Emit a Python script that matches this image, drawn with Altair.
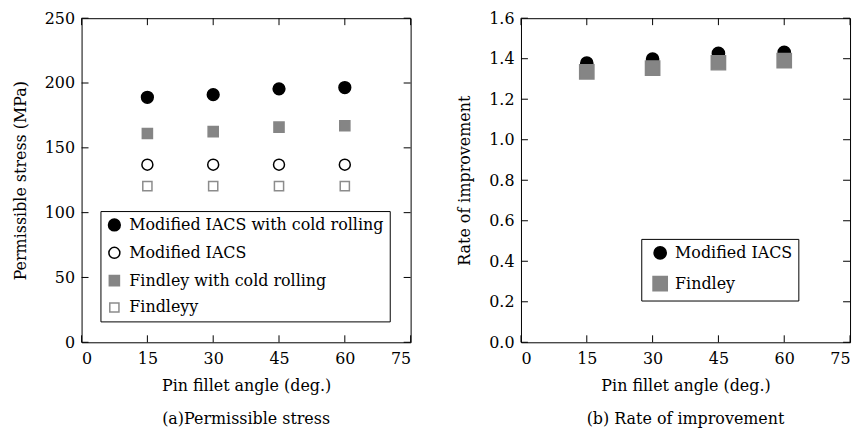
import altair as alt
import pandas as pd

angles = [15, 30, 45, 60]
iacs_cold = [189, 191, 195.5, 196.5]
iacs = [137, 137, 137, 137]
findley_cold = [161, 162.5, 166, 167]
findley = [120.5, 120.5, 120.5, 120.5]
rate_iacs = [1.378, 1.398, 1.426, 1.432]
rate_findley = [1.335, 1.354, 1.38, 1.39]

names_a = ["Modified IACS with cold rolling", "Modified IACS", "Findley with cold rolling", "Findleyy"]
names_b = ["Modified IACS", "Findley"]

x_ticks = [0, 15, 30, 45, 60, 75]
y_ticks_a = [0, 50, 100, 150, 200, 250]
y_ticks_b = [0.0, 0.2, 0.4, 0.6, 0.8, 1.0, 1.2, 1.4, 1.6]

FONT = "DejaVu Serif"
FS = 16
W, H = 331, 326
TL = 7
GREY = "#858585"

rows_a = []
for name, vals in zip(names_a, [iacs_cold, iacs, findley_cold, findley]):
    for a, v in zip(angles, vals):
        rows_a.append({"angle": a, "v": v, "series": name})
df_a = pd.DataFrame(rows_a)

rows_b = []
for name, vals in zip(names_b, [rate_iacs, rate_findley]):
    for a, v in zip(angles, vals):
        rows_b.append({"angle": a, "v": v, "series": name})
df_b = pd.DataFrame(rows_b)


def panel(df, names, shapes, fills, strokes, sizes, y_dom, y_ticks, y_title, y_fmt,
          caption, leg_x, leg_y, sym_off):
    leg = alt.Legend(title=None, orient="none", legendX=leg_x, legendY=leg_y,
                     strokeColor="black", fillColor="white", padding=6,
                     labelFont=FONT, labelFontSize=FS, labelColor="black",
                     rowPadding=10, symbolStrokeWidth=1.5, labelOffset=7,
                     symbolOffset=sym_off, labelLimit=400)
    xs = alt.Scale(domain=[0, 75], nice=False, zero=False)
    ys = alt.Scale(domain=y_dom, nice=False, zero=False)
    xax = alt.Axis(values=x_ticks, title="Pin fillet angle  (deg.)", format="d")
    yax = alt.Axis(values=y_ticks, title=y_title, format=y_fmt)
    pts = alt.Chart(df).mark_point(filled=False, opacity=1, fillOpacity=1, strokeWidth=1.5).encode(
        x=alt.X("angle:Q", scale=xs, axis=xax),
        y=alt.Y("v:Q", scale=ys, axis=yax),
        shape=alt.Shape("series:N", scale=alt.Scale(domain=names, range=shapes), legend=leg),
        fill=alt.Fill("series:N", scale=alt.Scale(domain=names, range=fills), legend=leg),
        stroke=alt.Stroke("series:N", scale=alt.Scale(domain=names, range=strokes), legend=leg),
        size=alt.Size("series:N", scale=alt.Scale(domain=names, range=sizes), legend=leg),
    )
    ydf = pd.DataFrame({"v": y_ticks})
    xdf = pd.DataFrame({"angle": x_ticks})
    left = alt.Chart(ydf).mark_rule(color="black", strokeWidth=1).encode(
        y=alt.Y("v:Q", scale=ys, axis=yax), x=alt.value(0), x2=alt.value(TL))
    right = alt.Chart(ydf).mark_rule(color="black", strokeWidth=1).encode(
        y=alt.Y("v:Q", scale=ys, axis=yax), x=alt.value(W - TL), x2=alt.value(W))
    bottom = alt.Chart(xdf).mark_rule(color="black", strokeWidth=1).encode(
        x=alt.X("angle:Q", scale=xs, axis=xax), y=alt.value(H - TL), y2=alt.value(H))
    top = alt.Chart(xdf).mark_rule(color="black", strokeWidth=1).encode(
        x=alt.X("angle:Q", scale=xs, axis=xax), y=alt.value(0), y2=alt.value(TL))
    return alt.layer(pts, left, right, bottom, top).properties(
        width=W, height=H,
        title=alt.TitleParams(caption, orient="bottom", font=FONT, fontSize=FS,
                              fontWeight="normal", color="black", offset=18),
    )


pa = panel(df_a, names_a, ["circle", "circle", "square", "square"],
           ["black", "white", GREY, "white"], ["black", "black", GREY, "#8c8c8c"],
           [140, 85, 196, 115], [0, 250], y_ticks_a, "Permissible stress  (MPa)", "d",
           "(a)Permissible stress", 19, 194, 0)
pb = panel(df_b, names_b, ["circle", "square"], ["black", GREY], ["black", GREY],
           [150, 205], [0, 1.6], y_ticks_b, "Rate of improvement", ".1f",
           "(b) Rate of improvement", 121, 222, 5)

chart = alt.hconcat(pa, pb, spacing=45).resolve_scale(
    shape="independent", fill="independent", stroke="independent", size="independent"
).properties(
    padding={"left": 3, "top": 0, "right": 5, "bottom": 5}, background="white"
).configure_view(
    stroke="black", strokeWidth=1
).configure_axis(
    domain=False, ticks=False, grid=False, labelFont=FONT, labelFontSize=FS,
    labelColor="black", titleFont=FONT, titleFontSize=FS, titleFontWeight="normal",
    titleColor="black"
).configure_axisX(
    labelPadding=8, titlePadding=11
).configure_axisY(
    labelPadding=7, titlePadding=16
)

chart.save("out.html", embed_options={"renderer": "svg", "actions": False})
